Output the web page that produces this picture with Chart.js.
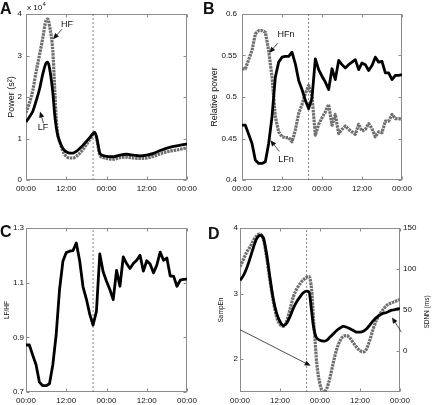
<!DOCTYPE html>
<html>
<head>
<meta charset="utf-8">
<script src="https://cdn.jsdelivr.net/npm/chart.js@4.4.1/dist/chart.umd.min.js"></script>
<style>
  html, body { margin: 0; padding: 0; background: #fff; }
  #fig { position: relative; width: 432px; height: 405px; }
  #fig canvas { position: absolute; left: 0; top: 0; }
</style>
</head>
<body>
<div id="fig">
  <canvas id="cA" width="432" height="405"></canvas>
  <canvas id="cB" width="432" height="405"></canvas>
  <canvas id="cC" width="432" height="405"></canvas>
  <canvas id="cD" width="432" height="405"></canvas>
</div>
<script>
/* ── shared x axis: 48 h of recording ───────────────────── */
const xTickHours  = [0, 12, 24, 36, 48];
const xTickLabels = ['00:00', '12:00', '00:00', '12:00', '00:00'];
const eventHour = 20;

/* ── A: absolute power (x 10^4) ─────────────────────────── */
const hoursA = [0, 1, 2, 3, 4, 5, 6, 6.5, 7, 8, 8.5, 9, 9.5, 10, 11, 12, 13, 14, 15, 16, 17, 18, 19, 20, 20.5, 21, 21.5, 22, 23, 24, 26, 28, 30, 32, 34, 36, 38, 40, 42, 44, 46, 48];
const hfA = [1.62, 1.85, 2.15, 2.6, 3.0, 3.42, 3.85, 3.88, 3.72, 3.1, 2.3, 1.5, 1.1, 0.93, 0.7, 0.57, 0.53, 0.53, 0.57, 0.64, 0.74, 0.85, 0.97, 1.10, 1.12, 1.02, 0.80, 0.60, 0.54, 0.52, 0.50, 0.54, 0.55, 0.53, 0.52, 0.53, 0.57, 0.63, 0.68, 0.71, 0.74, 0.78];
const lfA = [1.40, 1.52, 1.65, 1.90, 2.18, 2.55, 2.82, 2.84, 2.70, 2.10, 1.62, 1.28, 1.06, 0.94, 0.76, 0.68, 0.65, 0.65, 0.69, 0.76, 0.84, 0.93, 1.02, 1.12, 1.15, 1.05, 0.85, 0.65, 0.59, 0.57, 0.56, 0.60, 0.62, 0.60, 0.58, 0.60, 0.64, 0.71, 0.77, 0.81, 0.84, 0.87];
const ticksA = [0, 1, 2, 3, 4];

/* ── B: relative power ──────────────────────────────────── */
const hoursB = [0, 1, 2, 3, 4, 5, 6, 7, 8, 9, 10, 11, 12, 13, 14, 15, 16, 17, 18, 19, 20, 21, 22, 23, 24, 25, 26, 27, 28, 29, 30, 31, 32, 33, 34, 35, 36, 37, 38, 39, 40, 41, 42, 43, 44, 45, 46, 47, 48];
const hfnB = [0.534, 0.534, 0.545, 0.556, 0.576, 0.580, 0.580, 0.578, 0.556, 0.524, 0.476, 0.458, 0.452, 0.451, 0.451, 0.446, 0.460, 0.480, 0.491, 0.504, 0.514, 0.501, 0.454, 0.467, 0.475, 0.482, 0.491, 0.466, 0.479, 0.456, 0.461, 0.465, 0.461, 0.458, 0.455, 0.467, 0.459, 0.461, 0.468, 0.462, 0.452, 0.458, 0.457, 0.471, 0.471, 0.479, 0.474, 0.474, 0.473];
const lfnB = [0.466, 0.466, 0.455, 0.444, 0.424, 0.420, 0.420, 0.422, 0.444, 0.476, 0.524, 0.542, 0.548, 0.549, 0.549, 0.554, 0.540, 0.520, 0.509, 0.496, 0.486, 0.499, 0.546, 0.533, 0.525, 0.518, 0.509, 0.534, 0.521, 0.544, 0.539, 0.535, 0.539, 0.542, 0.545, 0.533, 0.541, 0.539, 0.532, 0.538, 0.548, 0.542, 0.543, 0.529, 0.529, 0.521, 0.526, 0.526, 0.527];
const ticksB = [0.4, 0.45, 0.5, 0.55, 0.6];

/* ── C: LF/HF ratio ─────────────────────────────────────── */
const hoursC = [0, 1, 2, 3, 4, 5, 6, 7, 8, 9, 10, 11, 12, 13, 14, 15, 16, 17, 18, 19, 20, 21, 22, 23, 24, 25, 26, 27, 28, 29, 30, 31, 32, 33, 34, 35, 36, 37, 38, 39, 40, 41, 42, 43, 44, 45, 46, 47, 48];
const lfhfC = [0.872, 0.872, 0.835, 0.800, 0.736, 0.723, 0.723, 0.730, 0.800, 0.910, 1.075, 1.178, 1.210, 1.215, 1.217, 1.245, 1.180, 1.085, 1.040, 0.985, 0.945, 0.995, 1.205, 1.140, 1.105, 1.075, 1.038, 1.145, 1.087, 1.194, 1.170, 1.152, 1.170, 1.182, 1.200, 1.142, 1.180, 1.168, 1.136, 1.164, 1.212, 1.182, 1.190, 1.124, 1.124, 1.087, 1.109, 1.112, 1.113];
const ticksC = [0.7, 0.9, 1.1, 1.3];

/* ── D: SampEn (left) and SDNN (right) ──────────────────── */
const hoursD = [0, 1, 2, 3, 4, 5, 6, 7, 8, 9, 10, 11, 12, 13, 14, 15, 16, 17, 18, 19, 20, 20.7, 21.5, 22, 22.5, 23, 24, 25, 26, 27, 28, 29, 30, 31, 32, 33, 34, 35, 36, 37, 38, 39, 40, 41, 42, 43, 44, 45, 46, 47, 48];
const sampEnD = [3.41, 3.52, 3.63, 3.71, 3.81, 3.88, 3.91, 3.83, 3.55, 3.2, 2.88, 2.64, 2.53, 2.50, 2.58, 2.76, 2.95, 3.07, 3.15, 3.21, 3.25, 3.26, 3.05, 2.65, 2.30, 1.95, 1.62, 1.50, 1.55, 1.72, 1.95, 2.15, 2.28, 2.35, 2.36, 2.32, 2.25, 2.18, 2.13, 2.11, 2.16, 2.30, 2.47, 2.60, 2.69, 2.76, 2.82, 2.85, 2.87, 2.89, 2.91];
const sdnnD = [86, 92, 101, 113, 126, 137, 141, 138, 118, 89, 63, 46, 36, 31, 34, 42, 52, 60, 66, 71, 73, 72, 48, 31, 21, 16, 13, 12, 13, 17, 21, 25, 28, 30, 29, 27, 25, 23, 23, 24, 27, 32, 37, 41, 44, 46, 47, 49, 50, 51, 52];
const ticksSampEn = [2, 3, 4];
const ticksSdnn = [0, 50, 100, 150];

/* ── styling ────────────────────────────────────────────── */
const family = "'Liberation Sans', Arial, Helvetica, sans-serif";
const ink = '#111';
const frameColor = '#8c8c8c';
const tickFont = { family, size: 8 };
const blackLine = { borderColor: '#000', borderWidth: 2.8 };
const grayLine = { borderColor: '#6f6f6f', borderWidth: 3.2, borderDash: [2.5, 0.8] };

function series(xs, ys, style, smooth, yAxisID) {
  return Object.assign({
    data: xs.map((x, i) => ({ x, y: ys[i] })),
    pointRadius: 0, fill: false, yAxisID: yAxisID || 'y',
    tension: smooth ? 0.4 : 0,
    cubicInterpolationMode: smooth ? 'monotone' : 'default',
    borderJoinStyle: 'round'
  }, style);
}

function eventLine(lo, hi, yAxisID) {
  return {
    data: [{ x: eventHour, y: lo }, { x: eventHour, y: hi }],
    borderColor: '#666', borderWidth: 0.8, borderDash: [2, 2],
    pointRadius: 0, yAxisID: yAxisID || 'y'
  };
}

function xAxis(h) {
  return {
    type: 'linear', min: 0, max: 48,
    grid: { display: false, drawTicks: false }, border: { display: false },
    afterBuildTicks: s => { s.ticks = xTickHours.map(v => ({ value: v })); },
    afterFit: s => { s.height = h; },
    ticks: { font: tickFont, color: ink, padding: 4, maxRotation: 0, autoSkip: false,
             callback: (v, i) => xTickLabels[i] }
  };
}

function yAxis(o) {
  return {
    type: 'linear', position: o.pos || 'left', min: o.min, max: o.max,
    grid: { display: false, drawTicks: false }, border: { display: false },
    afterBuildTicks: s => { s.ticks = o.ticks.map(v => ({ value: v })); },
    afterFit: s => { s.width = o.width; },
    ticks: { font: tickFont, color: ink, padding: o.pad, callback: v => String(v) },
    title: o.title
      ? { display: true, text: o.title, color: ink, font: { family, size: o.titleSize },
          padding: { top: o.titlePad, bottom: 0 } }
      : { display: false }
  };
}

// box + inward ticks, matlab style
const frame = {
  id: 'frame',
  beforeDatasetsDraw(chart) {
    const { ctx, chartArea: a, scales } = chart;
    const L = Math.round(a.left) + 0.5, R = Math.round(a.right) - 0.5;
    const T = Math.round(a.top) + 0.5, B = Math.round(a.bottom) - 0.5;
    const ys = Object.values(scales).filter(s => s.axis === 'y');
    const tl = 3;
    ctx.save();
    ctx.strokeStyle = frameColor; ctx.lineWidth = 1;
    ctx.strokeRect(L, T, R - L, B - T);
    ctx.beginPath();
    Object.values(scales).forEach(s => {
      s.ticks.forEach(t => {
        const p = Math.round(s.getPixelForValue(t.value)) + 0.5;
        if (s.axis === 'x') {
          ctx.moveTo(p, B); ctx.lineTo(p, B - tl);
          ctx.moveTo(p, T); ctx.lineTo(p, T + tl);
        } else {
          const pos = s.options.position;
          if (pos === 'left' || ys.length === 1) { ctx.moveTo(L, p); ctx.lineTo(L + tl, p); }
          if (pos === 'right' || ys.length === 1) { ctx.moveTo(R, p); ctx.lineTo(R - tl, p); }
        }
      });
    });
    ctx.stroke();
    ctx.restore();
  }
};

function drawArrow(ctx, x0, y0, x1, y1) {
  const ang = Math.atan2(y1 - y0, x1 - x0), len = 6, w = 2.6;
  const c = Math.cos(ang), s = Math.sin(ang);
  ctx.beginPath(); ctx.moveTo(x0, y0); ctx.lineTo(x1 - c * len * 0.8, y1 - s * len * 0.8); ctx.stroke();
  ctx.beginPath();
  ctx.moveTo(x1, y1);
  ctx.lineTo(x1 - len * c + w * s, y1 - len * s - w * c);
  ctx.lineTo(x1 - len * c - w * s, y1 - len * s + w * c);
  ctx.closePath(); ctx.fill();
}

// panel letters, callouts and free text
function makeNotes(cfg) {
  return {
    id: 'notes',
    afterDatasetsDraw(chart) {
      const { ctx, scales } = chart;
      const toPx = (p, yId) => [scales.x.getPixelForValue(p[0]), scales[yId || 'y'].getPixelForValue(p[1])];
      ctx.save();
      ctx.fillStyle = ink; ctx.strokeStyle = '#222'; ctx.lineWidth = 0.8;
      if (cfg.letter) {
        ctx.font = 'bold 16px ' + family;
        ctx.textAlign = 'left'; ctx.textBaseline = 'alphabetic';
        ctx.fillText(cfg.letter.text, cfg.letter.x, cfg.letter.y);
      }
      (cfg.labels || []).forEach(t => {
        const [x, y] = t.px || toPx(t.at, t.yAxis);
        ctx.save();
        ctx.font = t.size + 'px ' + family;
        ctx.translate(x, y);
        if (t.rotate) ctx.rotate(t.rotate);
        ctx.textAlign = t.align || 'center';
        ctx.textBaseline = t.px && !t.rotate ? 'alphabetic' : 'middle';
        ctx.fillText(t.text, 0, 0);
        ctx.restore();
      });
      (cfg.arrows || []).forEach(a => {
        const [x0, y0] = toPx(a.from, a.yAxis), [x1, y1] = toPx(a.to, a.yAxis);
        drawArrow(ctx, x0, y0, x1, y1);
      });
      ctx.restore();
    }
  };
}

function makeChart(id, datasets, scales, padding, notes) {
  return new Chart(document.getElementById(id), {
    type: 'line',
    data: { datasets },
    options: {
      responsive: false, animation: false, events: [],
      layout: { padding },
      plugins: { legend: { display: false }, tooltip: { enabled: false } },
      scales
    },
    plugins: [frame, makeNotes(notes)]
  });
}

/* ── panel A ── */
makeChart('cA',
  [series(hoursA, lfA, blackLine, true), series(hoursA, hfA, grayLine, true), eventLine(0, 4)],
  { x: xAxis(22), y: yAxis({ min: 0, max: 4, ticks: ticksA, width: 26, pad: 4, title: 'Power (s²)', titleSize: 9, titlePad: 6.6 }) },
  { left: 0, top: 14, right: 245, bottom: 203 },
  {
    letter: { text: 'A', x: 0, y: 14 },
    labels: [
      { text: 'x 10', px: [27, 10], size: 8, align: 'left' },
      { text: '4', px: [42.5, 6], size: 6, align: 'left' },
      { text: 'HF', at: [12.2, 3.75], size: 9 },
      { text: 'LF', at: [5.1, 1.26], size: 9 }
    ],
    arrows: [{ from: [10.7, 3.63], to: [8.05, 3.39] }, { from: [5.2, 1.37], to: [4.17, 1.65] }]
  });

/* ── panel B ── */
makeChart('cB',
  [series(hoursB, lfnB, blackLine, false), series(hoursB, hfnB, grayLine, false), eventLine(0.4, 0.6)],
  { x: xAxis(22), y: yAxis({ min: 0.4, max: 0.6, ticks: ticksB, width: 34, pad: 5, title: 'Relative power', titleSize: 9, titlePad: 1.6 }) },
  { left: 208, top: 14, right: 30, bottom: 203 },
  {
    letter: { text: 'B', x: 203, y: 14 },
    labels: [
      { text: 'HFn', at: [13.2, 0.575], size: 9 },
      { text: 'LFn', at: [13.2, 0.425], size: 9 }
    ],
    arrows: [{ from: [10.7, 0.565], to: [8.2, 0.553] }, { from: [11.2, 0.4345], to: [8.5, 0.448] }]
  });

/* ── panel C ── */
makeChart('cC',
  [series(hoursC, lfhfC, blackLine, false), eventLine(0.7, 1.3)],
  { x: xAxis(13), y: yAxis({ min: 0.7, max: 1.3, ticks: ticksC, width: 26, pad: 2, title: 'LF/HF', titleSize: 6.5, titlePad: 3.6 }) },
  { left: 0, top: 228, right: 245, bottom: 0 },
  { letter: { text: 'C', x: 0, y: 237 } });

/* ── panel D ── */
makeChart('cD',
  [series(hoursD, sdnnD, blackLine, true, 'y2'), series(hoursD, sampEnD, grayLine, true, 'y'), eventLine(1.5, 4)],
  {
    x: xAxis(13),
    y: yAxis({ min: 1.5, max: 4, ticks: ticksSampEn, width: 27, pad: 2, title: 'SampEn', titleSize: 6.5, titlePad: 4.6 }),
    y2: yAxis({ pos: 'right', min: -50, max: 150, ticks: ticksSdnn, width: 32, pad: 3 })
  },
  { left: 213, top: 228, right: 0, bottom: 0 },
  {
    letter: { text: 'D', x: 208, y: 239 },
    labels: [{ text: 'SDNN (ms)', px: [427, 312], size: 6.5, rotate: -Math.PI / 2 }],
    arrows: [{ from: [0, 2.45], to: [21.2, 1.90] }, { from: [48.4, 23], to: [45.6, 41], yAxis: 'y2' }]
  });
</script>
</body>
</html>
